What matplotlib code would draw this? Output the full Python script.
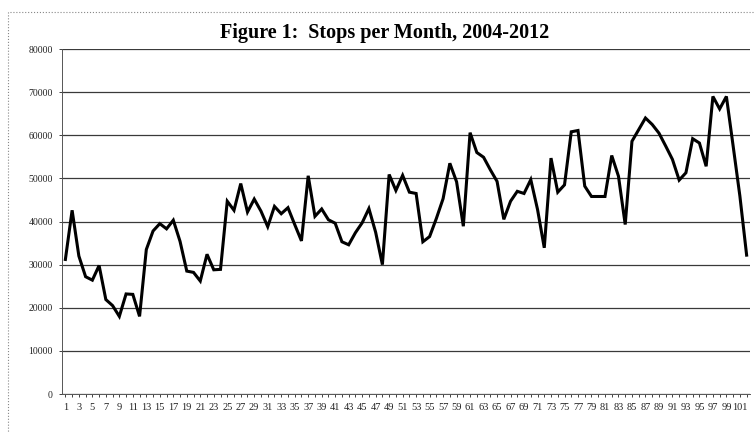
import matplotlib
matplotlib.use('Agg')
import matplotlib.pyplot as plt
from matplotlib.patches import Rectangle

# monthly stop counts, months 1..102
months = list(range(1, 103))
stops = [
    31200, 42600, 32000, 27200, 26400, 29800, 21900, 20500, 18000, 23200,
    23100, 18000, 33500, 37800, 39500, 38300, 40300, 35400, 28500, 28200,
    26200, 32400, 28800, 28900, 44700, 42600, 48800, 42200, 45200, 42400,
    38800, 43500, 41800, 43200, 39300, 35500, 50600, 41200, 42900, 40400,
    39600, 35300, 34600, 37400, 39700, 43000, 37500, 30000, 50900, 47200,
    50700, 46800, 46500, 35300, 36500, 40700, 45300, 53500, 49200, 38900,
    60600, 56000, 54900, 52000, 49300, 40500, 44700, 47000, 46500, 49700,
    42800, 33900, 54700, 46800, 48500, 60800, 61100, 48200, 45800, 45800,
    45800, 55300, 50500, 39300, 58600, 61300, 64000, 62500, 60500, 57500,
    54400, 49600, 51300, 59200, 58200, 52800, 69000, 66100, 69000, 57500,
    45900, 32200,
]
y_ticks = list(range(0, 80001, 10000))
x_labels = [str(m) if m % 2 == 1 else '' for m in months]

plt.rcParams['font.family'] = ['Liberation Serif', 'DejaVu Serif']

fig = plt.figure(figsize=(7.55, 4.33), dpi=100)
ax = fig.add_axes([62/755, 39/433, 688/755, 345/433])

ax.plot(months, stops, color='black', lw=2.2, solid_joinstyle='miter')

ax.set_xlim(0.5, len(months) + 0.5)
ax.set_ylim(0, 80000)
ax.set_yticks(y_ticks)
ax.set_yticklabels([str(v) for v in y_ticks], fontsize=7)
ax.set_xticks(months)
ax.set_xticklabels(x_labels, fontsize=7.5)
ax.tick_params(axis='both', length=2.5, width=0.6, pad=4, colors='#222222')
ax.grid(axis='y', color='#3a3a3a', lw=0.9)
ax.set_axisbelow(True)
for side in ['top', 'right']:
    ax.spines[side].set_visible(False)
ax.spines['left'].set_color('#555555')
ax.spines['bottom'].set_color('#555555')
ax.spines['left'].set_linewidth(0.7)
ax.spines['bottom'].set_linewidth(0.7)

fig.text(0.51, 0.924, 'Figure 1:  Stops per Month, 2004-2012',
         ha='center', va='center', fontsize=14.5, fontweight='bold')

# dotted frame around the chart, as in the scanned page
fig.patches.append(Rectangle((8/755, -0.05), 760/755, (433 - 12)/433 + 0.05,
                             transform=fig.transFigure, fill=False,
                             ec='#888888', lw=0.8, ls=':'))

fig.savefig('out.png', dpi=100)
